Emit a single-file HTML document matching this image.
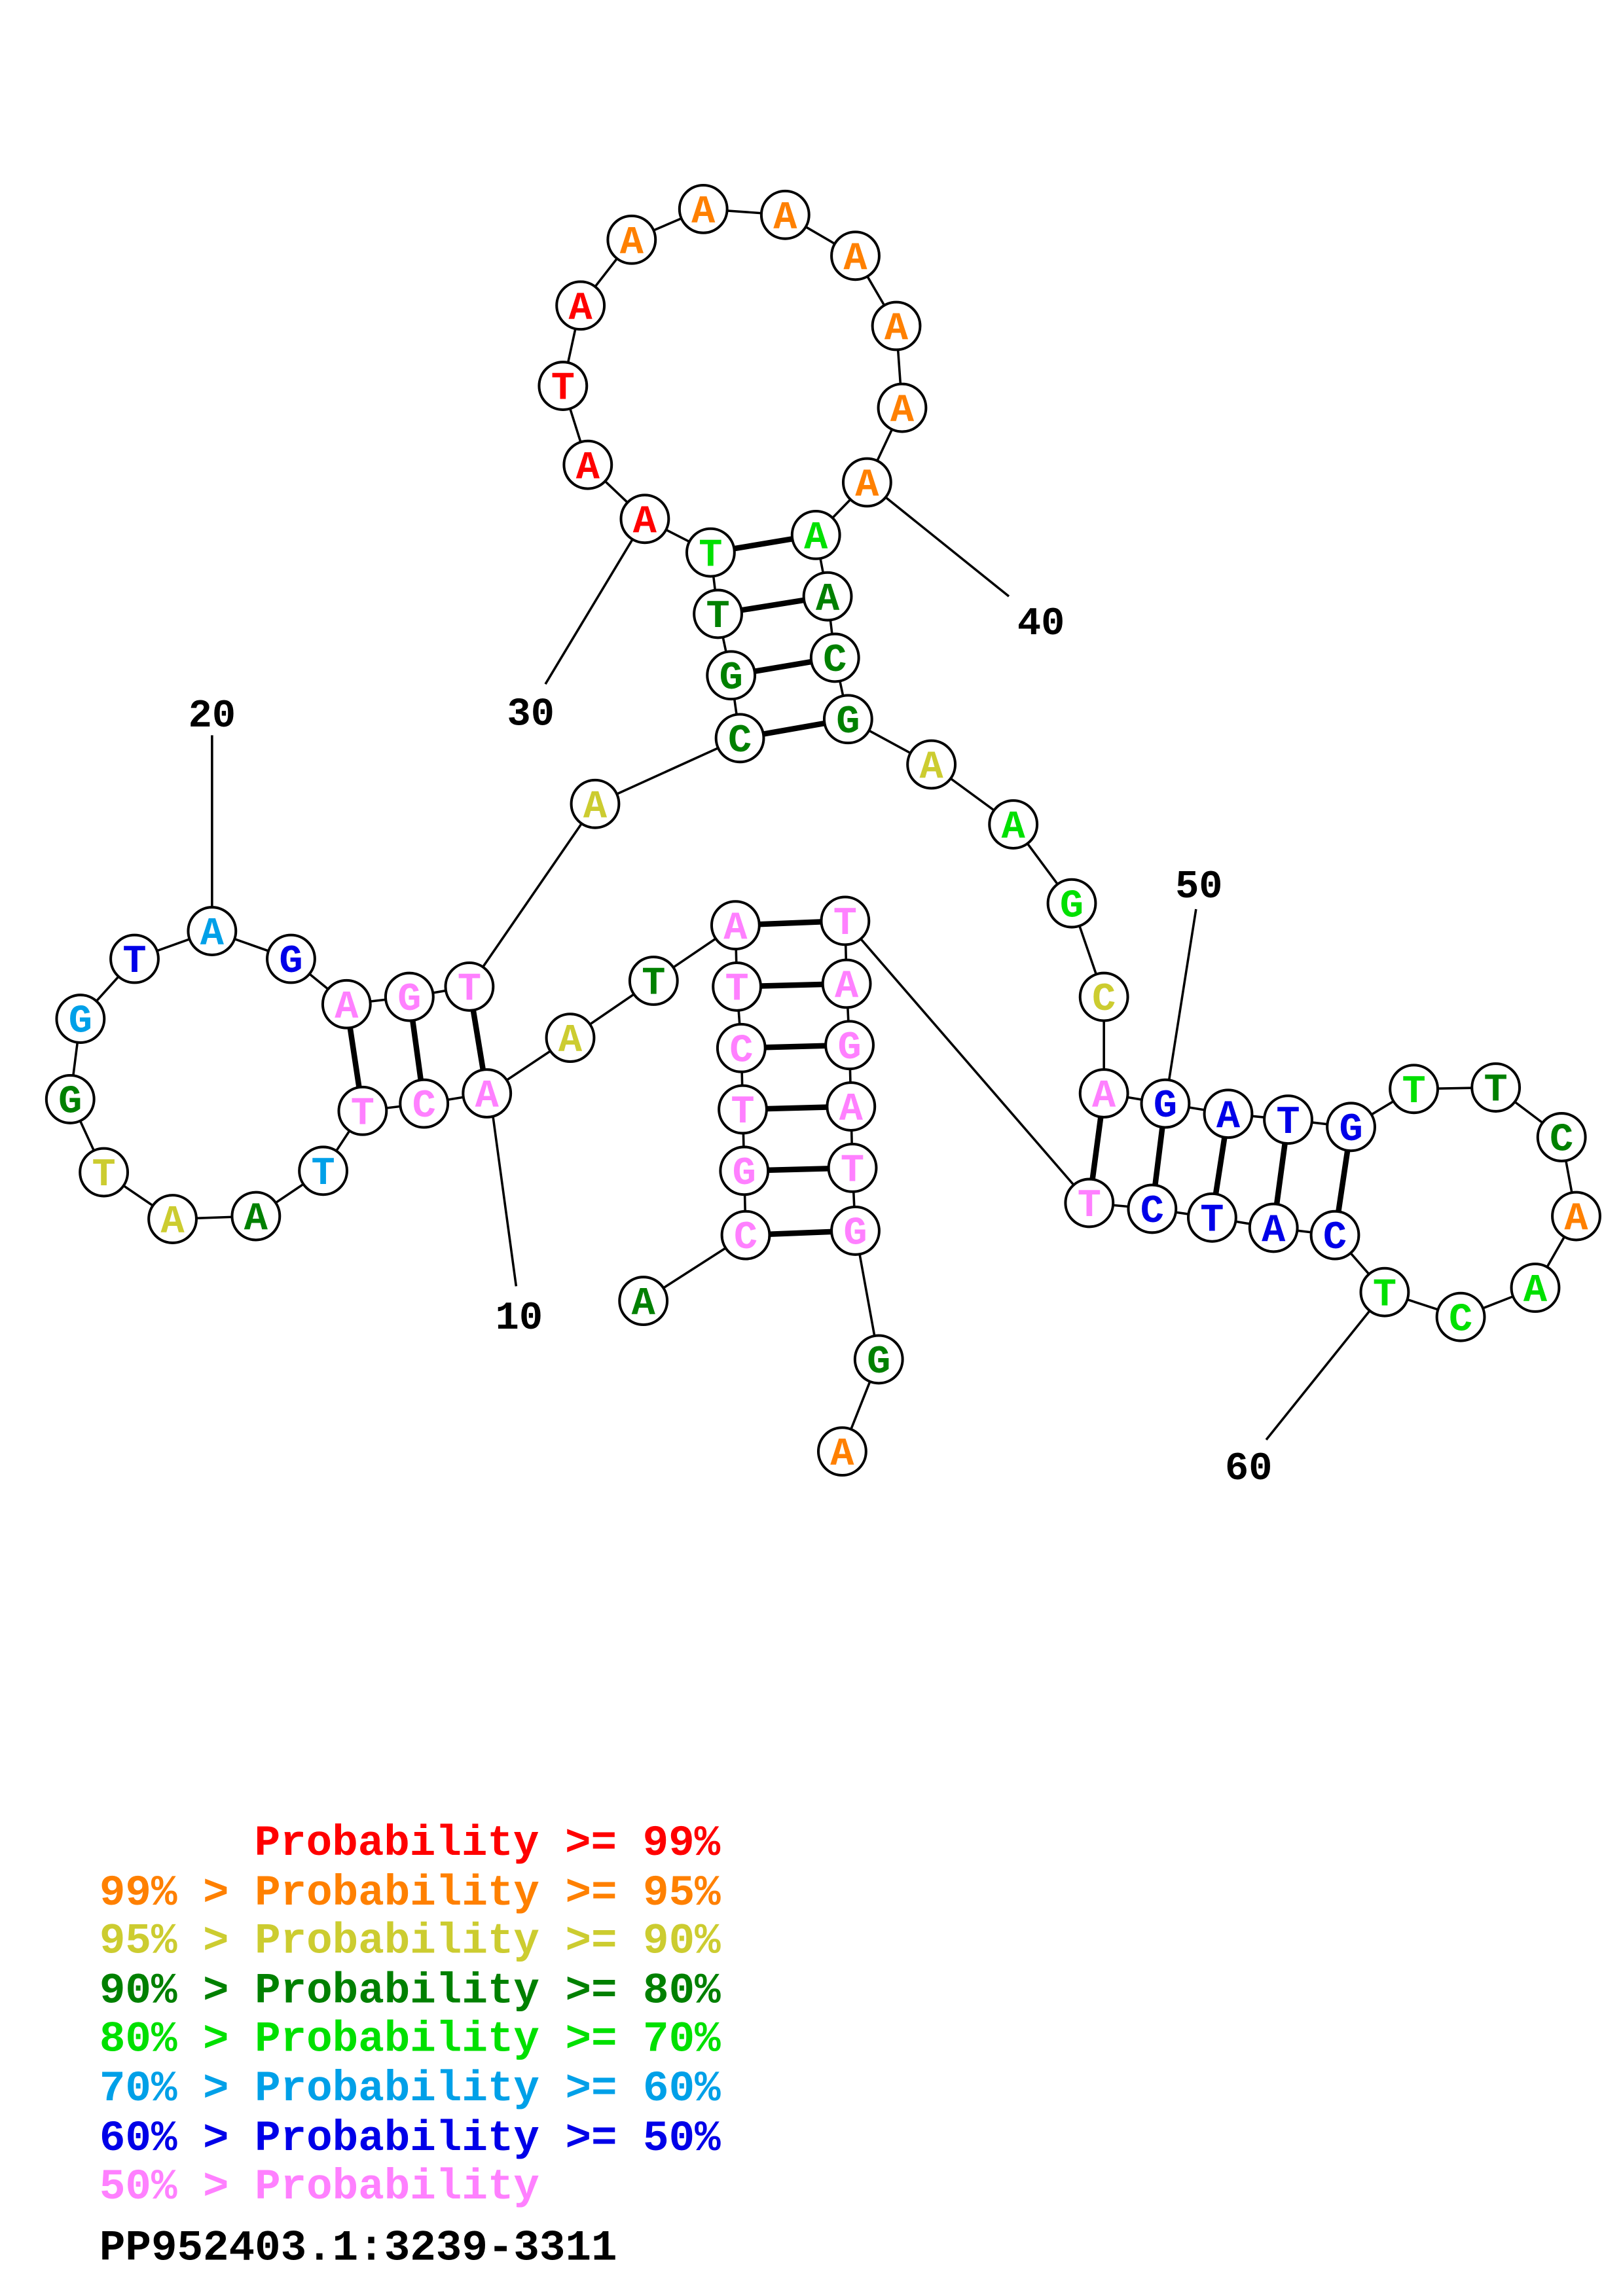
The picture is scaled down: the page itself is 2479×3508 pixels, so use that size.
<!DOCTYPE html>
<html><head><meta charset="utf-8"><style>html,body{margin:0;padding:0;background:#fff}svg{display:block}</style></head>
<body>
<svg id="s" xmlns="http://www.w3.org/2000/svg" width="2479" height="3508" viewBox="0 0 1110 1570.8">
<rect width="1110" height="1571" fill="#fff"/>
<g stroke="#000" stroke-width="1.6">
<line x1="335" y1="748" x2="353" y2="880"/>
<line x1="145" y1="620" x2="145" y2="503"/>
<line x1="441" y1="355" x2="373" y2="468"/>
<line x1="593" y1="330" x2="690" y2="408"/>
<line x1="797" y1="755" x2="818" y2="622"/>
<line x1="947" y1="884" x2="866" y2="985"/>
</g>
<g id="lines" stroke="#000" stroke-width="1.6" fill="none"></g>
<g id="pairs" stroke="#000" stroke-width="3.8"></g>
<g id="nodes"></g>
<g font-family="Liberation Mono, monospace" font-weight="bold" font-size="27" fill="#000" text-anchor="middle">
<text x="355" y="909">10</text>
<text x="145" y="497">20</text>
<text x="363" y="496">30</text>
<text x="712" y="434">40</text>
<text x="820" y="614">50</text>
<text x="854" y="1012">60</text>
</g>
<g font-family="Liberation Mono, monospace" font-weight="bold" font-size="29.5">
<text x="174" y="1269" fill="#f00">Probability &gt;= 99%</text>
<text x="68" y="1303" fill="#ff8000">99% &gt; Probability &gt;= 95%</text>
<text x="68" y="1336" fill="#cccc30">95% &gt; Probability &gt;= 90%</text>
<text x="68" y="1370" fill="#008000">90% &gt; Probability &gt;= 80%</text>
<text x="68" y="1403" fill="#00e000">80% &gt; Probability &gt;= 70%</text>
<text x="68" y="1437" fill="#00a0e8">70% &gt; Probability &gt;= 60%</text>
<text x="68" y="1471" fill="#0000e8">60% &gt; Probability &gt;= 50%</text>
<text x="68" y="1504" fill="#ff80ff">50% &gt; Probability</text>
<text x="68" y="1546" fill="#000">PP952403.1:3239-3311</text>
</g>
</svg>
<script>
var C={r:"#f00",o:"#ff8000",y:"#cccc30",d:"#008000",g:"#00e000",c:"#00a0e8",b:"#0000e8",p:"#ff80ff"};
var N=[
["A",440,890,"d"],["C",510,845,"p"],["G",509,801,"p"],["T",508,759,"p"],["C",507,717,"p"],["T",504,675,"p"],["A",503,633,"p"],
["T",447,671,"d"],["A",390,710,"y"],["A",333,748,"p"],["C",290,755,"p"],["T",248,760,"p"],["T",221,801,"c"],["A",175,832,"d"],
["A",118,834,"y"],["T",71,802,"y"],["G",48,752,"d"],["G",55,697,"c"],["T",92,656,"b"],["A",145,637,"c"],["G",199,656,"b"],
["A",237,687,"p"],["G",280,682,"p"],["T",321,675,"p"],["A",407,550,"y"],["C",506,505,"d"],["G",500,462,"d"],["T",491,420,"d"],
["T",486,378,"g"],["A",441,355,"r"],["A",402,318,"r"],["T",385,264,"r"],["A",397,209,"r"],["A",432,164,"o"],["A",481,143,"o"],
["A",537,147,"o"],["A",585,175,"o"],["A",613,223,"o"],["A",617,279,"o"],["A",593,330,"o"],["A",558,366,"g"],["A",566,408,"d"],
["C",571,450,"d"],["G",580,492,"d"],["A",637,523,"y"],["A",693,564,"g"],["G",733,618,"g"],["C",755,682,"y"],["A",755,748,"p"],
["G",797,755,"b"],["A",840,762,"b"],["T",881,766,"b"],["G",924,771,"b"],["T",967,745,"g"],["T",1023,744,"d"],["C",1068,778,"d"],
["A",1078,832,"o"],["A",1050,881,"g"],["C",999,901,"g"],["T",947,884,"g"],["C",913,845,"b"],["A",871,840,"b"],["T",829,833,"b"],
["C",788,827,"b"],["T",745,823,"p"],["T",578,630,"p"],["A",579,673,"p"],["G",581,715,"p"],["A",582,757,"p"],["T",583,799,"p"],
["G",585,842,"p"],["G",601,930,"d"],["A",576,993,"o"]];
var P=[[2,71],[3,70],[4,69],[5,68],[6,67],[7,66],[10,24],[11,23],[12,22],[26,44],[27,43],[28,42],[29,41],[49,65],[50,64],[51,63],[52,62],[53,61]];
var ns="http://www.w3.org/2000/svg";
function el(t,a,p){var e=document.createElementNS(ns,t);for(var k in a)e.setAttribute(k,a[k]);p.appendChild(e);return e;}
var L=document.getElementById("lines"),PP=document.getElementById("pairs"),G=document.getElementById("nodes");
for(var i=0;i<N.length-1;i++)el("line",{x1:N[i][1],y1:N[i][2],x2:N[i+1][1],y2:N[i+1][2]},L);
P.forEach(function(p){var a=N[p[0]-1],b=N[p[1]-1];el("line",{x1:a[1],y1:a[2],x2:b[1],y2:b[2]},PP);});
N.forEach(function(n){el("circle",{cx:n[1],cy:n[2],r:16.3,fill:"#fff",stroke:"#000","stroke-width":1.8},G);
var t=el("text",{x:n[1],y:n[2]+9,"text-anchor":"middle","font-family":"Liberation Mono, monospace","font-weight":"bold","font-size":"27",fill:C[n[3]]},G);t.textContent=n[0];});
</script>
</body></html>
